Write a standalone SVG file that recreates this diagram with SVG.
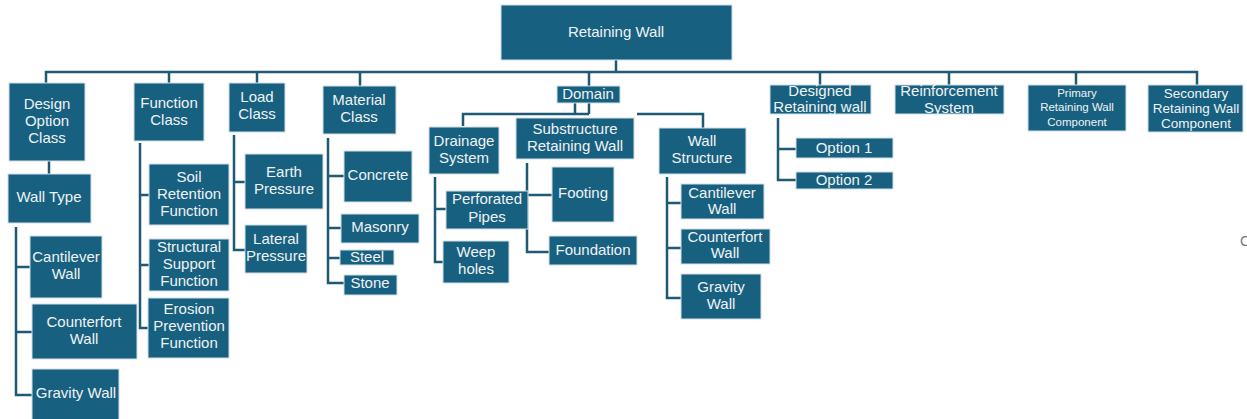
<svg xmlns="http://www.w3.org/2000/svg" width="1247" height="419" viewBox="0 0 1247 419">
<style>
.box{fill:#18607f;stroke:#cfe0e8;stroke-width:1}
.t{font-family:"Liberation Sans",Arial,sans-serif;font-size:15px;fill:#eef3f6;text-anchor:middle}
.s{font-size:11.5px}
.m{font-size:13.5px}
.c{stroke:#1e5a76;stroke-width:2.5;fill:none}
</style>
<rect width="1247" height="419" fill="#ffffff"/>
<g id="connectors">
<path class="c" d="M616 60 V73"/>
<path class="c" d="M46 83 V72 H1197 V85"/>
<path class="c" d="M169 72 V83 M257 72 V83 M360 72 V86 M589 72 V86 M820 72 V85 M949 72 V85 M1076 72 V85"/>
<path class="c" d="M49 161 V174"/>
<path class="c" d="M16 227 V395 H32 M16 267 H30 M16 332 H32"/>
<path class="c" d="M140 143 V328 H148 M140 195 H149 M140 265 H149"/>
<path class="c" d="M234 135 V250 H245 M234 182 H245"/>
<path class="c" d="M328 138 V283 H344 M328 176 H344 M328 228 H341 M328 258 H340"/>
<path class="c" d="M575 103 V114 M589 103 V114 M463 126 V114 H589 M637 114 H703 V128"/>
<path class="c" d="M435 177 V262 H443 M435 209 H446"/>
<path class="c" d="M527 163 V252 H549 M527 195 H552"/>
<path class="c" d="M667 177 V298 H681 M667 203 H681 M667 248 H681"/>
<path class="c" d="M778 118 V180 H796 M778 149 H796"/>
</g>
<g id="root"><rect class="box" x="501" y="5" width="231" height="55"/><text class="t" x="616" y="37">Retaining Wall</text></g>
<g id="design-option-class"><rect class="box" x="9" y="83" width="76" height="78"/><text class="t" x="47" y="109">Design</text><text class="t" x="47" y="126">Option</text><text class="t" x="47" y="143">Class</text></g>
<g id="wall-type"><rect class="box" x="8" y="174" width="83" height="49"/><text class="t" x="49" y="202">Wall Type</text></g>
<g id="cantilever-wall-1"><rect class="box" x="30" y="236" width="72" height="62"/><text class="t" x="66" y="262">Cantilever</text><text class="t" x="66" y="279">Wall</text></g>
<g id="counterfort-wall-1"><rect class="box" x="32" y="304" width="105" height="55"/><text class="t" x="84" y="327">Counterfort</text><text class="t" x="84" y="344">Wall</text></g>
<g id="gravity-wall-1"><rect class="box" x="32" y="369" width="87" height="52"/><text class="t" x="76" y="398">Gravity Wall</text></g>
<g id="function-class"><rect class="box" x="134" y="83" width="70" height="58"/><text class="t" x="169" y="108">Function</text><text class="t" x="169" y="125">Class</text></g>
<g id="soil-retention"><rect class="box" x="149" y="164" width="80" height="61"/><text class="t" x="189" y="182">Soil</text><text class="t" x="189" y="199">Retention</text><text class="t" x="189" y="216">Function</text></g>
<g id="structural-support"><rect class="box" x="149" y="239" width="80" height="52"/><text class="t" x="189" y="252">Structural</text><text class="t" x="189" y="269">Support</text><text class="t" x="189" y="286">Function</text></g>
<g id="erosion-prevention"><rect class="box" x="148" y="298" width="81" height="60"/><text class="t" x="189" y="314">Erosion</text><text class="t" x="189" y="331">Prevention</text><text class="t" x="189" y="348">Function</text></g>
<g id="load-class"><rect class="box" x="229" y="83" width="56" height="49"/><text class="t" x="257" y="102">Load</text><text class="t" x="257" y="119">Class</text></g>
<g id="earth-pressure"><rect class="box" x="245" y="154" width="78" height="55"/><text class="t" x="284" y="177">Earth</text><text class="t" x="284" y="194">Pressure</text></g>
<g id="lateral-pressure"><rect class="box" x="245" y="225" width="62" height="48"/><text class="t" x="276" y="244">Lateral</text><text class="t" x="276" y="261">Pressure</text></g>
<g id="material-class"><rect class="box" x="323" y="86" width="73" height="48"/><text class="t" x="359" y="105">Material</text><text class="t" x="359" y="122">Class</text></g>
<g id="concrete"><rect class="box" x="344" y="151" width="68" height="51"/><text class="t" x="378" y="180">Concrete</text></g>
<g id="masonry"><rect class="box" x="341" y="214" width="78" height="29"/><text class="t" x="380" y="232">Masonry</text></g>
<g id="steel"><rect class="box" x="340" y="250" width="54" height="15"/><text class="t" x="367" y="262">Steel</text></g>
<g id="stone"><rect class="box" x="344" y="275" width="53" height="20"/><text class="t" x="370" y="288">Stone</text></g>
<g id="domain"><rect class="box" x="557" y="86" width="63" height="17"/><text class="t" x="588" y="99">Domain</text></g>
<g id="drainage-system"><rect class="box" x="429" y="127" width="70" height="47"/><text class="t" x="464" y="146">Drainage</text><text class="t" x="464" y="163">System</text></g>
<g id="perforated-pipes"><rect class="box" x="446" y="191" width="82" height="38"/><text class="t" x="487" y="204">Perforated</text><text class="t" x="487" y="222">Pipes</text></g>
<g id="weep-holes"><rect class="box" x="443" y="241" width="66" height="42"/><text class="t" x="476" y="257">Weep</text><text class="t" x="476" y="274">holes</text></g>
<g id="substructure"><rect class="box" x="516" y="118" width="118" height="41"/><text class="t" x="575" y="134">Substructure</text><text class="t" x="575" y="151">Retaining Wall</text></g>
<g id="footing"><rect class="box" x="552" y="167" width="62" height="55"/><text class="t" x="583" y="198">Footing</text></g>
<g id="foundation"><rect class="box" x="549" y="236" width="88" height="29"/><text class="t" x="593" y="255">Foundation</text></g>
<g id="wall-structure"><rect class="box" x="659" y="128" width="87" height="46"/><text class="t" x="702" y="146">Wall</text><text class="t" x="702" y="163">Structure</text></g>
<g id="cantilever-wall-2"><rect class="box" x="681" y="184" width="83" height="35"/><text class="t" x="722" y="198">Cantilever</text><text class="t" x="722" y="214">Wall</text></g>
<g id="counterfort-wall-2"><rect class="box" x="681" y="229" width="89" height="35"/><text class="t" x="725" y="242">Counterfort</text><text class="t" x="725" y="258">Wall</text></g>
<g id="gravity-wall-2"><rect class="box" x="681" y="274" width="80" height="45"/><text class="t" x="721" y="292">Gravity</text><text class="t" x="721" y="309">Wall</text></g>
<g id="designed-retaining-wall"><rect class="box" x="770" y="85" width="101" height="29"/><text class="t" x="820" y="96">Designed</text><text class="t" x="820" y="112">Retaining wall</text></g>
<g id="option-1"><rect class="box" x="796" y="138" width="97" height="20"/><text class="t" x="844" y="153">Option 1</text></g>
<g id="option-2"><rect class="box" x="796" y="172" width="97" height="17"/><text class="t" x="844" y="185">Option 2</text></g>
<g id="reinforcement-system"><rect class="box" x="895" y="85" width="109" height="29"/><text class="t" x="949" y="96">Reinforcement</text><text class="t" x="949" y="113">System</text></g>
<g id="primary-component"><rect class="box" x="1028" y="85" width="98" height="46"/><text class="t s" x="1077" y="97">Primary</text><text class="t s" x="1077" y="111">Retaining Wall</text><text class="t s" x="1077" y="126">Component</text></g>
<g id="secondary-component"><rect class="box" x="1148" y="85" width="95" height="47"/><text class="t m" x="1196" y="98">Secondary</text><text class="t m" x="1196" y="113">Retaining Wall</text><text class="t m" x="1196" y="128">Component</text></g>
<text x="1240" y="246" font-family="Liberation Sans, Arial, sans-serif" font-size="14" fill="#777777">C</text>
</svg>
